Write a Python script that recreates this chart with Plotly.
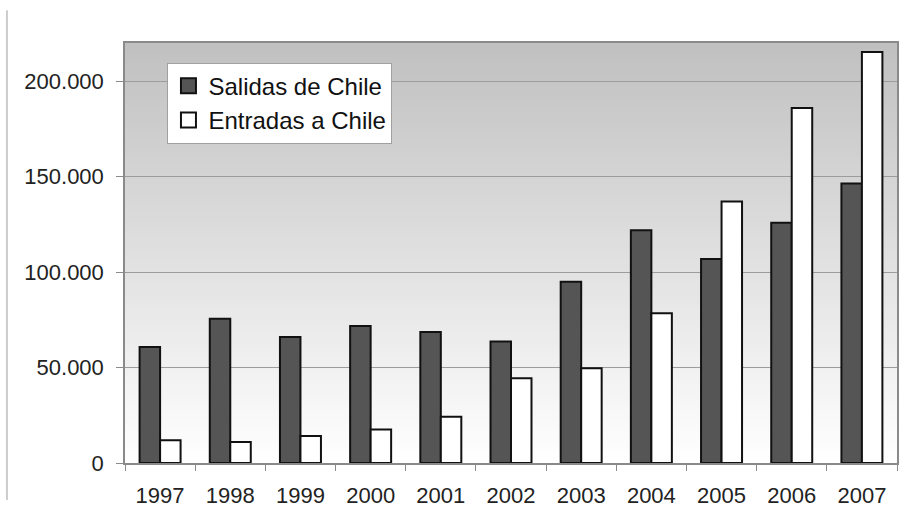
import plotly.graph_objects as go

years = ["1997", "1998", "1999", "2000", "2001", "2002", "2003", "2004", "2005", "2006", "2007"]
salidas = [60800, 75600, 66000, 71800, 68600, 63600, 94900, 121900, 106800, 125900, 146400]
entradas = [11900, 11000, 14200, 17600, 24200, 44400, 49600, 78400, 137000, 186000, 215300]
y_ticks = [0, 50000, 100000, 150000, 200000]

DARK = "#555555"
FONT = "Liberation Sans, Arial, sans-serif"

fig = go.Figure()
fig.add_trace(go.Bar(x=years, y=salidas, name="Salidas de Chile", showlegend=False,
                     marker=dict(color=DARK, line=dict(color="#111111", width=2))))
fig.add_trace(go.Bar(x=years, y=entradas, name="Entradas a Chile", showlegend=False,
                     marker=dict(color="white", line=dict(color="#111111", width=2))))
# legend entries
fig.add_trace(go.Scatter(x=[None], y=[None], mode="markers", name="Salidas de Chile",
                         legendgroup="a",
                         marker=dict(symbol="square", size=15, color=DARK,
                                     line=dict(color="#111111", width=2))))
fig.add_trace(go.Scatter(x=[None], y=[None], mode="markers", name="Entradas a Chile",
                         legendgroup="b",
                         marker=dict(symbol="square", size=15, color="white",
                                     line=dict(color="#111111", width=2))))

# vertical gradient background of the plot area
shapes = []
n = 80
for i in range(n):
    t = i / n  # 0 at bottom
    v = round(255 - (255 - 192) * (t + 0.5 / n))
    c = f"rgb({v},{v},{v})"
    shapes.append(dict(type="rect", xref="x domain", yref="y domain",
                       x0=0, x1=1, y0=i / n, y1=(i + 1) / n + 0.002,
                       fillcolor=c, line=dict(width=0), layer="below"))
# page edge line on far left
shapes.append(dict(type="line", xref="paper", yref="paper", x0=-0.1529, x1=-0.1529,
                   y0=1.078, y1=-0.088, line=dict(color="#cccccc", width=2)))

fig.update_layout(
    width=911, height=521,
    margin=dict(l=125, r=14, t=43, b=58),
    paper_bgcolor="white", plot_bgcolor="white",
    separators=",.",
    barmode="group", bargap=0.416, bargroupgap=0,
    font=dict(family=FONT, size=22, color="#222222"),
    shapes=shapes,
    legend=dict(x=0.055, y=0.953, xanchor="left", yanchor="top",
                bgcolor="white", bordercolor="#a0a0a0", borderwidth=1,
                font=dict(size=24, color="#111111"),
                traceorder="grouped", tracegroupgap=0),
    xaxis=dict(type="category", showline=True, linecolor="#8a8a8a", linewidth=1.5,
               mirror=True, ticks="outside", ticklen=6, tickcolor="#8a8a8a",
               tickson="boundaries", showgrid=False, ticklabelstandoff=12),
    yaxis=dict(range=[0, 220000], tickvals=y_ticks, tickformat=",.0f",
               showline=True, linecolor="#8a8a8a", linewidth=1.5, mirror=True,
               ticks="outside", ticklen=7, tickcolor="#8a8a8a",
               showgrid=True, gridcolor="#9c9c9c", gridwidth=1,
               zeroline=False, ticklabelstandoff=8),
)
fig.write_html("out.html")
